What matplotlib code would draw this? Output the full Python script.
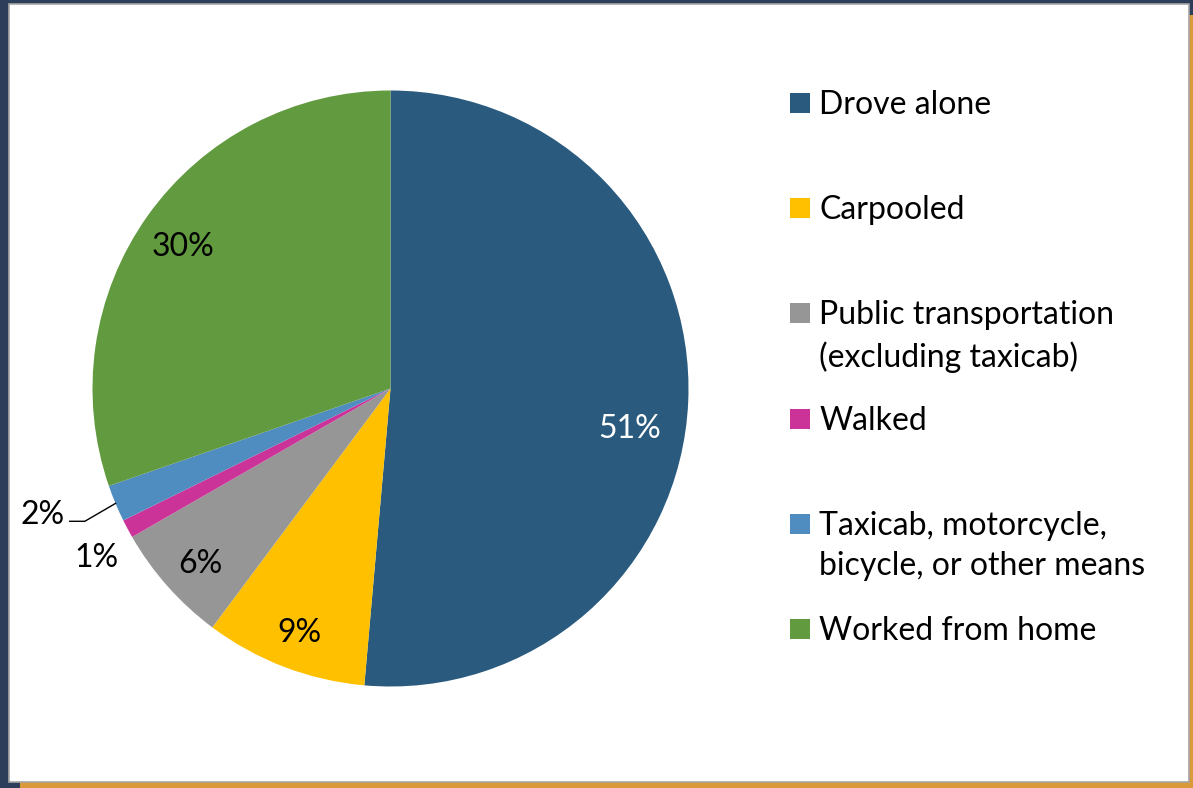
import numpy as np
import matplotlib.pyplot as plt
from matplotlib.patches import Rectangle

plt.rcParams['font.family'] = ['Lato', 'DejaVu Sans']

categories = ["Drove alone", "Carpooled", "Public transportation\n(excluding taxicab)",
              "Walked", "Taxicab, motorcycle,\nbicycle, or other means", "Worked from home"]
shares = [51.4, 8.8, 6.5, 1.0, 2.0, 30.3]
colors = ['#2a5b7e', '#ffc000', '#969696', '#cc3399', '#4f8cc0', '#629a3f']
label_colors = ['white', 'black', 'black', 'black', 'black', 'black']

W, H = 1193, 788
fig = plt.figure(figsize=(W / 100, H / 100), dpi=100, facecolor='#2c3e5a')

# orange shadow + white chart area
fig.patches.append(Rectangle((20 / W, 0), 1, (H - 15) / H, transform=fig.transFigure,
                             facecolor='#da9a3a', edgecolor='none', zorder=0))
fig.patches.append(Rectangle((9 / W, 6 / H), 1180 / W, 778 / H, transform=fig.transFigure,
                             facecolor='white', edgecolor='#a6a6a6', linewidth=1.2, zorder=1))

# pie axes: centre (390.5, 388.5) px, radius 298 px
cx, cy, R, lim = 390.5, 388.5, 298, 1.3
half = R * lim
ax = fig.add_axes([(cx - half) / W, (H - cy - half) / H, 2 * half / W, 2 * half / H])
ax.set_zorder(2)

wedges, _ = ax.pie(shares, colors=colors, startangle=90, counterclock=False,
                   wedgeprops=dict(linewidth=0))
ax.set_xlim(-lim, lim)
ax.set_ylim(-lim, lim)
ax.set_aspect('equal')
ax.axis('off')

fs = 23
dy = -0.02  # visual centring of the digits
for w, v, c in zip(wedges, shares, label_colors):
    mid_deg = (w.theta1 + w.theta2) / 2
    mid = np.deg2rad(mid_deg)
    txt = f"{round(v)}%"
    if v < 1.5:
        a = np.deg2rad(mid_deg + 1.6)
        ax.text(1.134 * np.cos(a), 1.134 * np.sin(a) + dy + 0.012, txt, ha='center',
                va='center', fontsize=fs, color=c)
    elif v < 3:
        ex, ey = np.cos(mid), np.sin(mid)
        bx, by = ex - 0.103, ey - 0.06
        ax.plot([ex, bx, bx - 0.051], [ey, by, by], color='black', lw=1, clip_on=False)
        ax.text(bx - 0.068, by + 0.04 + dy, txt, ha='right', va='center', fontsize=fs,
                color=c)
    else:
        if v > 40:
            a, r = np.deg2rad(mid_deg - 5.6), 0.812
        else:
            a, r = mid, 0.855
        ax.text(r * np.cos(a), r * np.sin(a) + dy, txt, ha='center', va='center',
                fontsize=fs, color=c)

# legend drawn by hand so markers sit on the first line of each label
y0, step = 103, 105.2
for i, (lab, col) in enumerate(zip(categories, colors)):
    y = y0 + i * step
    fig.patches.append(Rectangle((790 / W, 1 - (y + 10) / H), 20 / W, 20 / H,
                                 transform=fig.transFigure, facecolor=col,
                                 edgecolor='none', zorder=3))
    fig.text(819 / W, 1 - (y - 13) / H, lab, ha='left', va='top', fontsize=fs,
             linespacing=1.42, color='black', zorder=3)

fig.savefig('out.png', dpi=100, facecolor=fig.get_facecolor())
